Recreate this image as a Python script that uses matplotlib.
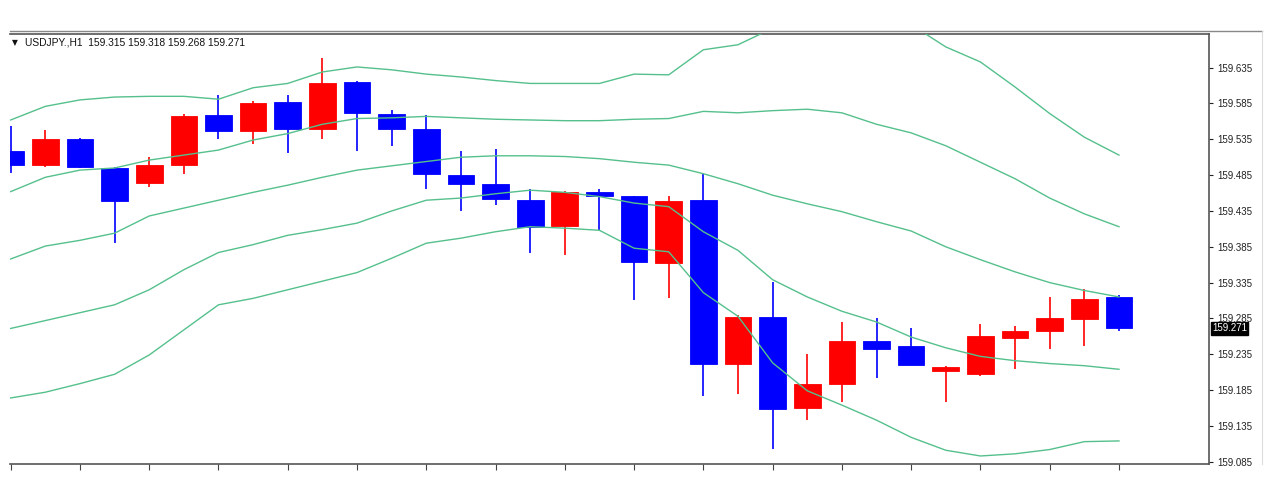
import matplotlib.pyplot as plt
import numpy as np

# USDJPY H1 candles (left to right)
opens = [159.519, 159.499, 159.536, 159.495, 159.474, 159.499, 159.569, 159.547,
         159.587, 159.549, 159.615, 159.571, 159.550, 159.485, 159.472, 159.450,
         159.414, 159.462, 159.456, 159.362, 159.450, 159.222, 159.287, 159.160,
         159.193, 159.253, 159.247, 159.211, 159.208, 159.258, 159.267, 159.284,
         159.315]
highs = [159.553, 159.548, 159.537, 159.496, 159.511, 159.571, 159.597, 159.589,
         159.597, 159.648, 159.616, 159.576, 159.569, 159.519, 159.522, 159.465,
         159.463, 159.466, 159.456, 159.456, 159.486, 159.290, 159.336, 159.235,
         159.280, 159.285, 159.271, 159.219, 159.277, 159.274, 159.315, 159.326,
         159.318]
lows = [159.488, 159.496, 159.495, 159.390, 159.468, 159.486, 159.535, 159.528,
        159.516, 159.535, 159.519, 159.526, 159.465, 159.435, 159.443, 159.376,
        159.373, 159.408, 159.311, 159.314, 159.177, 159.180, 159.103, 159.143,
        159.169, 159.202, 159.220, 159.169, 159.205, 159.214, 159.242, 159.247,
        159.268]
closes = [159.499, 159.536, 159.496, 159.449, 159.499, 159.567, 159.547, 159.585,
          159.550, 159.614, 159.572, 159.550, 159.486, 159.472, 159.451, 159.412,
          159.462, 159.456, 159.364, 159.449, 159.222, 159.287, 159.159, 159.194,
          159.253, 159.243, 159.220, 159.217, 159.260, 159.268, 159.286, 159.312,
          159.271]

# Bollinger-style band lines
band_up2 = [159.562, 159.581, 159.590, 159.594, 159.595, 159.595, 159.591, 159.607,
            159.613, 159.629, 159.636, 159.632, 159.626, 159.622, 159.617, 159.613,
            159.613, 159.613, 159.626, 159.625, 159.660, 159.667, 159.690, 159.707,
            159.703, 159.697, 159.695, 159.664, 159.643, 159.608, 159.571, 159.538,
            159.513]
band_up1 = [159.462, 159.482, 159.492, 159.495, 159.506, 159.513, 159.520, 159.534,
            159.543, 159.556, 159.564, 159.565, 159.567, 159.565, 159.563, 159.562,
            159.561, 159.561, 159.563, 159.564, 159.574, 159.572, 159.575, 159.577,
            159.572, 159.556, 159.544, 159.526, 159.503, 159.480, 159.453, 159.431,
            159.413]
band_mid = [159.368, 159.386, 159.394, 159.404, 159.428, 159.439, 159.450, 159.461,
            159.471, 159.482, 159.492, 159.498, 159.504, 159.510, 159.512, 159.512,
            159.511, 159.508, 159.503, 159.499, 159.487, 159.473, 159.457, 159.445,
            159.434, 159.420, 159.407, 159.385, 159.367, 159.350, 159.335, 159.324,
            159.315]
band_dn1 = [159.271, 159.282, 159.293, 159.304, 159.325, 159.353, 159.377, 159.388,
            159.401, 159.409, 159.418, 159.435, 159.450, 159.453, 159.459, 159.464,
            159.461, 159.455, 159.446, 159.441, 159.406, 159.380, 159.339, 159.315,
            159.295, 159.280, 159.259, 159.244, 159.232, 159.226, 159.222, 159.219,
            159.214]
band_dn2 = [159.174, 159.182, 159.194, 159.207, 159.234, 159.269, 159.304, 159.313,
            159.325, 159.337, 159.349, 159.369, 159.390, 159.397, 159.406, 159.413,
            159.411, 159.408, 159.383, 159.378, 159.321, 159.288, 159.223, 159.184,
            159.164, 159.143, 159.119, 159.101, 159.093, 159.096, 159.102, 159.113,
            159.114]

price_ticks = [159.085, 159.135, 159.185, 159.235, 159.285, 159.335, 159.385,
               159.435, 159.485, 159.535, 159.585, 159.635]
symbol = "USDJPY.,H1"
last_ohlc = [159.315, 159.318, 159.268, 159.271]

W, H = 1274, 500
fig = plt.figure(figsize=(W / 100, H / 100), dpi=100)
fig.patch.set_facecolor("white")
ax = fig.add_axes([10 / W, 36 / H, 1199 / W, 430 / H])

x = np.arange(len(opens))
o = np.array(opens)
c = np.array(closes)
up = c >= o
colors = np.where(up, "#ff0000", "#0000ff")

# wicks
ax.vlines(x, lows, highs, colors=colors, linewidth=1.2, zorder=2)
# bodies
bottoms = np.minimum(o, c)
heights = np.maximum(np.abs(c - o), 0.0008)
ax.bar(x, heights, bottom=bottoms, width=0.77, color=colors,
       edgecolor=colors, linewidth=0.6, zorder=3)

# band lines
for band in [band_up2, band_up1, band_mid, band_dn1, band_dn2]:
    ax.plot(x, band, color="#55c08c", linewidth=1.0, zorder=4)

ax.set_xlim(-0.02, 34.6)
ax.set_ylim(159.0818, 159.682)

# axes styling
ax.spines["left"].set_visible(False)
for side in ["top", "right", "bottom"]:
    ax.spines[side].set_color("#555555")
    ax.spines[side].set_linewidth(1.2)

ax.yaxis.tick_right()
ax.set_yticks(price_ticks)
ax.set_yticklabels([f"{v:.3f}" for v in price_ticks])
ax.tick_params(axis="y", direction="out", length=3, width=0.8, pad=3,
               labelsize=7, colors="#222222")
ax.set_xticks(x[::2])
ax.set_xticklabels([])
ax.tick_params(axis="x", direction="out", length=4, width=0.8, colors="#444444")
for lab in ax.get_yticklabels():
    lab.set_fontfamily(["Liberation Sans", "DejaVu Sans"])

# current price marker
ax.text(1.0025, last_ohlc[3], f"{last_ohlc[3]:.3f}",
        transform=ax.get_yaxis_transform(), ha="left", va="center",
        fontsize=7, color="white", family=["Liberation Sans", "DejaVu Sans"],
        bbox=dict(boxstyle="square,pad=0.15", facecolor="black", edgecolor="black"),
        zorder=10, clip_on=False)

# chart header
fig.add_artist(plt.Line2D([10 / W, 1262 / W], [1 - 31 / H, 1 - 31 / H],
                          color="#888888", linewidth=1.0))
fig.add_artist(plt.Line2D([1262 / W, 1262 / W], [36 / H, 1 - 31 / H],
                          color="#dddddd", linewidth=0.8))
fig.text(12 / W, 1 - 42.5 / H, "\u25bc", fontsize=5.5, va="center", ha="left",
         color="#111111", family=["DejaVu Sans"])
header = symbol + "  " + " ".join(f"{v:.3f}" for v in last_ohlc)
fig.text(25 / W, 1 - 42.5 / H, header, fontsize=7.4, va="center", ha="left",
         color="#111111", family=["Liberation Sans", "DejaVu Sans"])

fig.savefig("out.png", dpi=100)
